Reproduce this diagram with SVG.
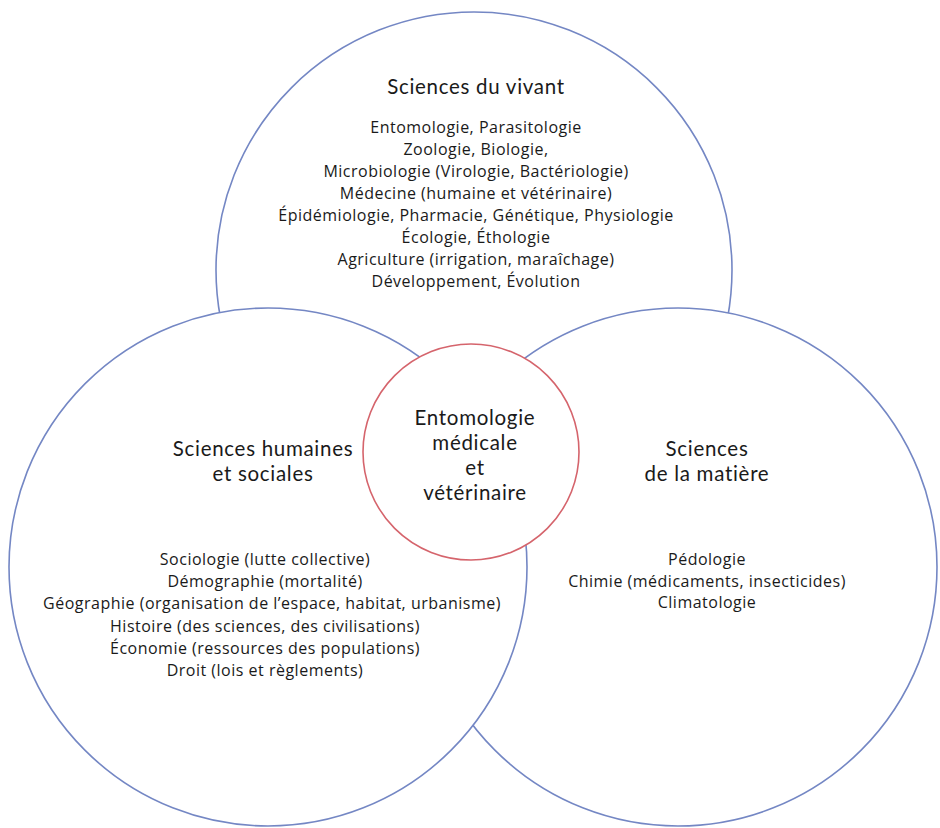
<svg xmlns="http://www.w3.org/2000/svg" width="940" height="828" viewBox="0 0 940 828">
<style>
.ring{fill:#ffffff;stroke:#7487c4;stroke-width:1.6}
.core{fill:#ffffff;stroke:#d5646c;stroke-width:1.6}
text{font-family:"Open Sans","Noto Sans","Liberation Sans",sans-serif;fill:#1a1a1a;text-anchor:middle}
.h{font-family:Lato,"Open Sans",sans-serif;font-size:20.5px;letter-spacing:0.7px}
.b{font-size:16px;letter-spacing:0.5px}
</style>
<rect x="0" y="0" width="940" height="828" fill="#ffffff"/>
<g id="connectors"></g>
<g id="vivant">
<circle class="ring" cx="474" cy="270" r="258"/>
<text class="h" x="476" y="94">Sciences du vivant</text>
<text class="b" x="476" y="133">Entomologie, Parasitologie</text>
<text class="b" x="476" y="155">Zoologie, Biologie,</text>
<text class="b" x="476" y="177">Microbiologie (Virologie, Bactériologie)</text>
<text class="b" x="476" y="199">Médecine (humaine et vétérinaire)</text>
<text class="b" x="476" y="221">Épidémiologie, Pharmacie, Génétique, Physiologie</text>
<text class="b" x="476" y="243">Écologie, Éthologie</text>
<text class="b" x="476" y="265">Agriculture (irrigation, maraîchage)</text>
<text class="b" x="476" y="287">Développement, Évolution</text>
</g>
<g id="matiere">
<circle class="ring" cx="678" cy="567" r="259"/>
<text class="h" x="707" y="456">Sciences</text>
<text class="h" x="707" y="481">de la matière</text>
<text class="b" x="707" y="565">Pédologie</text>
<text class="b" x="707" y="587">Chimie (médicaments, insecticides)</text>
<text class="b" x="707" y="608">Climatologie</text>
</g>
<g id="humaines">
<circle class="ring" cx="268" cy="567" r="259"/>
<text class="h" x="263" y="456">Sciences humaines</text>
<text class="h" x="263" y="481">et sociales</text>
<text class="b" x="265" y="565">Sociologie (lutte collective)</text>
<text class="b" x="265" y="587">Démographie (mortalité)</text>
<text class="b" x="272" y="609">Géographie (organisation de l’espace, habitat, urbanisme)</text>
<text class="b" x="265" y="632">Histoire (des sciences, des civilisations)</text>
<text class="b" x="265" y="654">Économie (ressources des populations)</text>
<text class="b" x="265" y="676">Droit (lois et règlements)</text>
</g>
<g id="entomologie">
<circle class="core" cx="471" cy="452" r="108"/>
<text class="h" x="475" y="425">Entomologie</text>
<text class="h" x="475" y="450">médicale</text>
<text class="h" x="475" y="475">et</text>
<text class="h" x="475" y="500">vétérinaire</text>
</g>
</svg>
